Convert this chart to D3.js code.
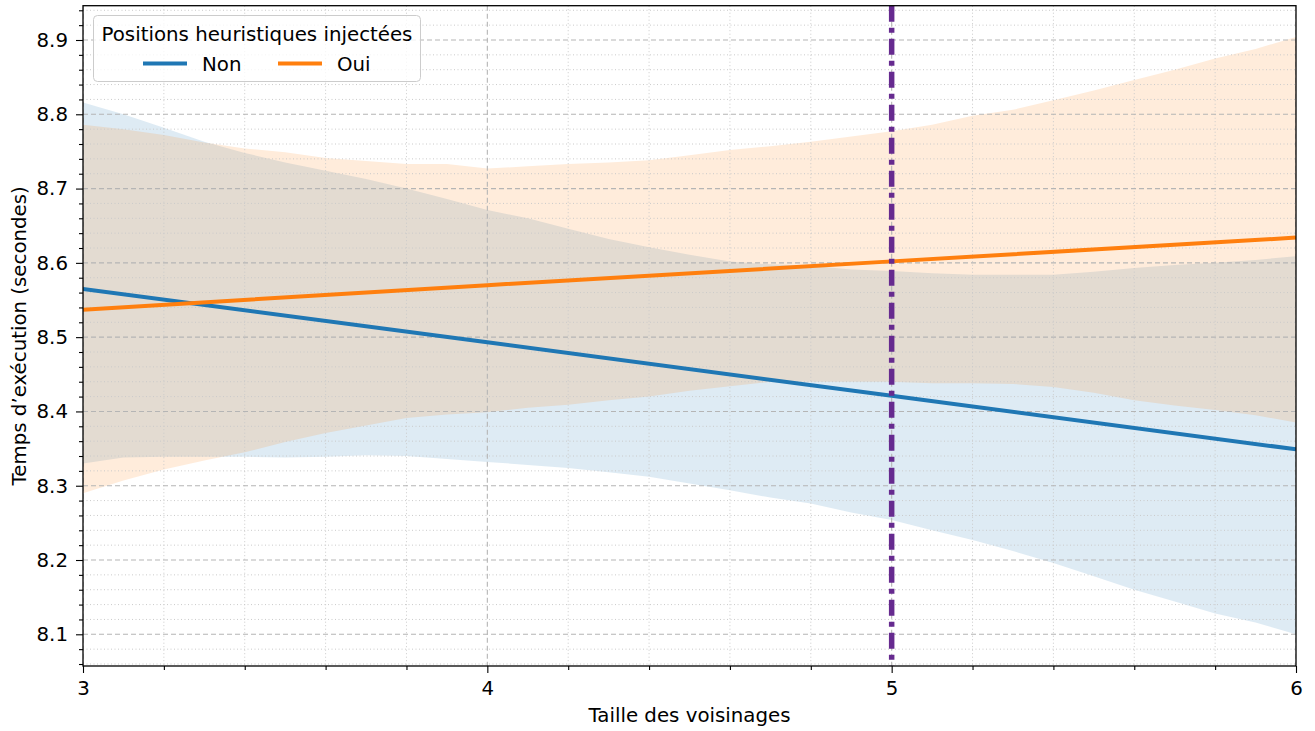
<!DOCTYPE html>
<html>
<head>
<meta charset="utf-8">
<script src="https://cdn.jsdelivr.net/npm/d3@7"></script>
<style>
  html, body { margin: 0; padding: 0; background: #fff; }
  svg { display: block; font-family: "DejaVu Sans", sans-serif; }
</style>
</head>
<body>
<svg id="chart" width="1315" height="731"></svg>
<script>
// ---------- data ----------
const bandX = [3.0,3.1,3.2,3.3,3.4,3.5,3.6,3.7,3.8,3.9,4.0,4.1,4.2,4.3,4.4,4.5,4.6,4.7,4.8,4.9,5.0,5.1,5.2,5.3,5.4,5.5,5.6,5.7,5.8,5.9,6.0];
const nonUpper = [8.816,8.800,8.782,8.763,8.748,8.735,8.724,8.713,8.700,8.686,8.671,8.660,8.646,8.632,8.621,8.611,8.602,8.598,8.596,8.591,8.589,8.586,8.584,8.584,8.584,8.588,8.593,8.597,8.600,8.604,8.609];
const nonLower = [8.330,8.338,8.339,8.339,8.339,8.338,8.339,8.341,8.340,8.336,8.332,8.328,8.324,8.318,8.312,8.303,8.294,8.284,8.276,8.264,8.254,8.240,8.227,8.212,8.196,8.178,8.160,8.144,8.128,8.116,8.100];
const ouiUpper = [8.786,8.780,8.772,8.762,8.754,8.749,8.741,8.737,8.733,8.733,8.727,8.730,8.733,8.735,8.738,8.745,8.752,8.757,8.763,8.770,8.777,8.786,8.798,8.806,8.819,8.832,8.846,8.860,8.875,8.888,8.904];
const ouiLower = [8.290,8.307,8.322,8.334,8.345,8.359,8.371,8.381,8.391,8.396,8.399,8.405,8.409,8.415,8.420,8.428,8.434,8.440,8.440,8.440,8.440,8.438,8.438,8.437,8.433,8.425,8.415,8.408,8.402,8.395,8.385];
const lineX = [3, 4, 5, 6];
const nonMean = [8.565, 8.493, 8.421, 8.349];
const ouiMean = [8.537, 8.570, 8.602, 8.634];
const markerX = 5;
const xTicks = [3, 4, 5, 6];
const yTicks = [8.1, 8.2, 8.3, 8.4, 8.5, 8.6, 8.7, 8.8, 8.9];
const seriesNames = ["Non", "Oui"];
const legendTitle = "Positions heuristiques injectées";
const xLabel = "Taille des voisinages";
const yLabel = "Temps d’exécution (secondes)";

// ---------- layout ----------
const colors = {Non: "#1f77b4", Oui: "#ff7f0e"};
const L = 83, R = 1296, T = 5.7, B = 666;
const svg = d3.select("#chart");
const x = d3.scaleLinear().domain([3, 6]).range([L, R]);
const y = d3.scaleLinear().domain([8.1, 8.9]).range([634.3, 40]);
const yMax = y.invert(T);
const fs = 19.8;

const xMinor = d3.range(3, 6.0001, 0.2).map(v => +v.toFixed(2));
const yMinor = d3.range(8.06, yMax, 0.02).map(v => +v.toFixed(2));

const plot = svg.append("g");
const clipId = "clipP";
svg.append("defs").append("clipPath").attr("id", clipId)
  .append("rect").attr("x", L).attr("y", T).attr("width", R - L).attr("height", B - T);

// bands
const area = (up, lo) => d3.area()
  .x((d, i) => x(bandX[i]))
  .y0((d, i) => y(lo[i]))
  .y1((d, i) => y(up[i]));
const gb = plot.append("g").attr("clip-path", `url(#${clipId})`);
gb.append("path").attr("d", area(nonUpper, nonLower)(bandX))
  .attr("fill", colors.Non).attr("fill-opacity", 0.15);
gb.append("path").attr("d", area(ouiUpper, ouiLower)(bandX))
  .attr("fill", colors.Oui).attr("fill-opacity", 0.15);

// grid
const gg = plot.append("g").attr("clip-path", `url(#${clipId})`);
const isMajorY = v => yTicks.some(t => Math.abs(t - v) < 1e-6);
yMinor.filter(v => !isMajorY(v)).forEach(v => {
  gg.append("line").attr("x1", L).attr("x2", R).attr("y1", y(v)).attr("y2", y(v))
    .attr("stroke", "#cacaca").attr("stroke-width", 1).attr("stroke-dasharray", "1,2.5");
});
xMinor.filter(v => !xTicks.includes(v)).forEach(v => {
  gg.append("line").attr("y1", T).attr("y2", B).attr("x1", x(v)).attr("x2", x(v))
    .attr("stroke", "#cacaca").attr("stroke-width", 1).attr("stroke-dasharray", "1,2.5");
});
yTicks.forEach(v => {
  gg.append("line").attr("x1", L).attr("x2", R).attr("y1", y(v)).attr("y2", y(v))
    .attr("stroke", "#b5b5b5").attr("stroke-width", 1.1).attr("stroke-dasharray", "5,3");
});
xTicks.forEach(v => {
  gg.append("line").attr("y1", T).attr("y2", B).attr("x1", x(v)).attr("x2", x(v))
    .attr("stroke", "#b5b5b5").attr("stroke-width", 1.1).attr("stroke-dasharray", "5,3");
});

// mean lines
const line = d3.line().x((d, i) => x(lineX[i])).y(d => y(d));
const gl = plot.append("g").attr("clip-path", `url(#${clipId})`);
gl.append("path").attr("d", line(nonMean)).attr("fill", "none")
  .attr("stroke", colors.Non).attr("stroke-width", 4);
gl.append("path").attr("d", line(ouiMean)).attr("fill", "none")
  .attr("stroke", colors.Oui).attr("stroke-width", 4);

// vertical marker
gl.append("line").attr("x1", x(markerX)).attr("x2", x(markerX)).attr("y1", T).attr("y2", B)
  .attr("stroke", "#662a8f").attr("stroke-width", 5.5).attr("stroke-dasharray", "16,6,5,6");

// axes
const xAxis = d3.axisBottom(x).tickValues(xTicks).tickFormat(d3.format("d")).tickSize(7).tickPadding(8);
svg.append("g").attr("transform", `translate(0,${B})`).call(xAxis);
const xAxisMinor = d3.axisBottom(x).tickValues(xMinor.filter(v => !xTicks.includes(v))).tickFormat("").tickSize(4);
svg.append("g").attr("transform", `translate(0,${B})`).call(xAxisMinor);
const yAxis = d3.axisLeft(y).tickValues(yTicks).tickFormat(d3.format(".1f")).tickSize(7).tickPadding(8);
svg.append("g").attr("transform", `translate(${L},0)`).call(yAxis);
const yAxisMinor = d3.axisLeft(y).tickValues(yMinor.filter(v => !isMajorY(v))).tickFormat("").tickSize(4);
svg.append("g").attr("transform", `translate(${L},0)`).call(yAxisMinor);
svg.selectAll(".domain").remove();
svg.selectAll(".tick line").attr("stroke", "#000").attr("stroke-width", 1.1);
svg.selectAll(".tick text").attr("font-size", fs).attr("fill", "#000")
  .attr("font-family", "DejaVu Sans, sans-serif");

// frame
svg.append("rect").attr("x", L).attr("y", T).attr("width", R - L).attr("height", B - T)
  .attr("fill", "none").attr("stroke", "#000").attr("stroke-width", 1.3);

// labels
svg.append("text").attr("x", (L + R) / 2).attr("y", 722).attr("text-anchor", "middle")
  .attr("font-size", fs).text(xLabel);
svg.append("text").attr("transform", `translate(26,${(T + B) / 2}) rotate(-90)`)
  .attr("text-anchor", "middle").attr("font-size", fs).text(yLabel);

// legend
const lg = svg.append("g");
lg.append("rect").attr("x", 93.5).attr("y", 15.5).attr("width", 327).attr("height", 66)
  .attr("rx", 4).attr("fill", "#fff").attr("fill-opacity", 0.8)
  .attr("stroke", "#cccccc").attr("stroke-width", 1);
lg.append("text").attr("x", 257).attr("y", 40.5).attr("text-anchor", "middle")
  .attr("font-size", fs).text(legendTitle);
const handleX = [143, 278];
seriesNames.forEach((name, i) => {
  lg.append("line").attr("x1", handleX[i]).attr("x2", handleX[i] + 44).attr("y1", 63.5).attr("y2", 63.5)
    .attr("stroke", colors[name]).attr("stroke-width", 4);
  lg.append("text").attr("x", handleX[i] + 59).attr("y", 70.5).attr("font-size", fs).text(name);
});
</script>
</body>
</html>
